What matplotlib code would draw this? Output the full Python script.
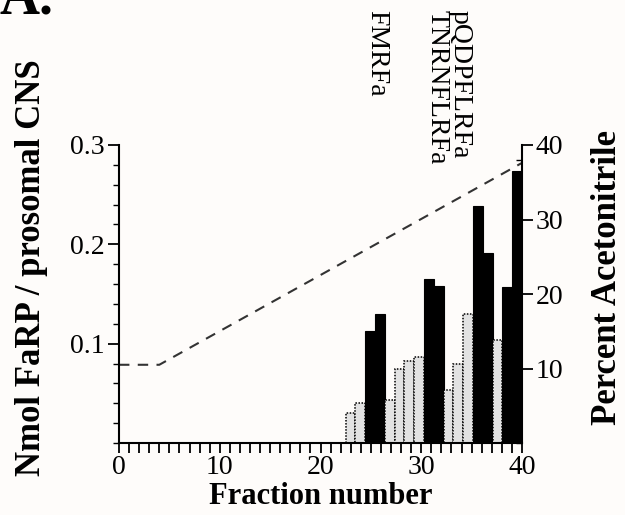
import numpy as np
import matplotlib
matplotlib.use("Agg")
import matplotlib.pyplot as plt
from matplotlib.ticker import MultipleLocator

plt.rcParams['font.family'] = ['Liberation Serif', 'DejaVu Serif']

# fraction numbers and FaRP content (nmol / prosomal CNS)
fractions = np.arange(23, 41)
nmol = [0.030, 0.040, 0.113, 0.130, 0.043, 0.074, 0.083, 0.087, 0.165,
        0.158, 0.053, 0.080, 0.130, 0.239, 0.191, 0.104, 0.157, 0.274]
immuno = [0, 0, 1, 1, 0, 0, 0, 0, 1, 1, 0, 0, 0, 1, 1, 0, 1, 1]

# acetonitrile gradient
grad_frac = [0, 4, 40]
grad_pct = [10.5, 10.5, 37.6]

peptides = ["FMRFa", "TNRNFLRFa", "pQDPFLRFa"]
peptide_x = [0.603, 0.699, 0.736]

W, H = 625, 515
fig = plt.figure(figsize=(W / 100, H / 100), dpi=100)
fig.patch.set_facecolor('#fefcfa')
ax = fig.add_axes([119 / W, 1 - 443 / H, (522 - 119) / W, (443 - 145) / H])
ax2 = ax.twinx()
ax.set_zorder(ax2.get_zorder() + 1)
ax.patch.set_visible(False)

bw = 17.5 / 18
left = 22.5 + (fractions - 23) * bw
for x, v, im in zip(left, nmol, immuno):
    if im:
        ax.bar(x, v, width=bw, align='edge', color='black', edgecolor='black', linewidth=0.8)
    else:
        ax.bar(x, v, width=bw, align='edge', color='#e2e2e2', edgecolor='black',
               linewidth=1.1, linestyle=(0, (1, 1)))

ax2.plot(grad_frac, grad_pct, color='#333333', lw=1.5, dashes=(5, 4))

ax.set_xlim(0, 40)
ax.set_ylim(0, 0.3)
ax2.set_ylim(0, 40)

ax.xaxis.set_major_locator(MultipleLocator(10))
ax.xaxis.set_minor_locator(MultipleLocator(1))
ax.set_yticks([0.1, 0.2, 0.3])
ax.set_yticklabels(["0.1", "0.2", "0.3"])
ax.yaxis.set_minor_locator(MultipleLocator(0.02))
ax2.set_yticks([10, 20, 30, 40])
ax2.yaxis.set_minor_locator(MultipleLocator(2))

for a in (ax, ax2):
    a.spines['top'].set_visible(False)
    for s in ['left', 'right', 'bottom']:
        a.spines[s].set_linewidth(1.5)
ax.spines['right'].set_visible(False)
ax2.spines['left'].set_visible(False)
ax2.spines['bottom'].set_visible(False)

ax.tick_params(axis='x', which='both', direction='out', length=7, width=1.3, labelsize=20, pad=2)
ax.tick_params(axis='y', which='major', direction='out', length=8, width=1.3, labelsize=20, pad=2)
ax.tick_params(axis='y', which='minor', direction='out', length=4, width=1.0)
ax2.tick_params(axis='y', which='major', direction='out', length=8, width=1.3, labelsize=20, pad=2)
ax2.tick_params(axis='y', which='minor', direction='in', length=4, width=1.0)

ax.set_xlabel("Fraction number", fontsize=22, fontweight='bold', labelpad=1)
ax.set_ylabel("Nmol FaRP / prosomal CNS", fontsize=25, fontweight='bold')
ax.yaxis.set_label_coords(-0.175, 0.59)
ax2.set_ylabel("Percent Acetonitrile", fontsize=25, fontweight='bold')
ax2.yaxis.set_label_coords(1.172, 0.554)

for name, px in zip(peptides, peptide_x):
    fig.text(px, 1 - 10 / H, name, rotation=270, ha='center', va='top', fontsize=20)

fig.text(0.0, 1 - 13 / H, "A.", fontsize=40, fontweight='bold', va='baseline', ha='left')

fig.savefig("out.png", dpi=100, facecolor=fig.get_facecolor())
